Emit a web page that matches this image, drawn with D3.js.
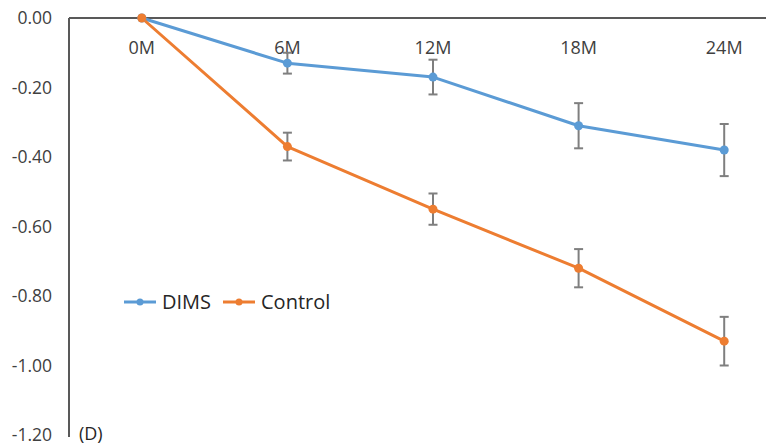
<!DOCTYPE html>
<html><head><meta charset="utf-8">
<script src="https://cdn.jsdelivr.net/npm/d3@7"></script>
<style>body{margin:0;background:#fff;} svg{display:block;}</style>
</head><body>
<svg id="c" width="766" height="447"></svg>
<script>
const categories = ["0M","6M","12M","18M","24M"];
const dimsValues = [0, -0.13, -0.17, -0.31, -0.38];
const dimsErrors = [0, 0.03, 0.05, 0.065, 0.075];
const controlValues = [0, -0.37, -0.55, -0.72, -0.93];
const controlErrors = [0, 0.04, 0.045, 0.055, 0.07];
const yTicks = [0, -0.2, -0.4, -0.6, -0.8, -1.0, -1.2];
const seriesNames = ["DIMS","Control"];
const colors = ["#5b9bd5","#ed7d31"];

const svg = d3.select("#c");
const font = "'Open Sans', 'Liberation Sans', sans-serif";
const fmt = d3.formatLocale({decimal: ".", thousands: ",", grouping: [3], currency: ["", ""], minus: "-"}).format(".2f");
const x = d3.scaleBand().domain(categories).range([69, 797]);
const y = d3.scaleLinear().domain([-1.2, 0]).range([435, 18]);

// y tick labels
svg.append("g").selectAll("text").data(yTicks).join("text")
  .attr("x", 52).attr("y", d => y(d)).attr("dy", "0.35em")
  .attr("text-anchor", "end").attr("font-family", font).attr("font-size", 17.5)
  .attr("fill", "#404040").text(d => fmt(d));

// axes lines
svg.append("line").attr("x1", 69).attr("x2", 766).attr("y1", y(0)).attr("y2", y(0))
  .attr("stroke", "#595959").attr("stroke-width", 2);
svg.append("line").attr("x1", 69).attr("x2", 69).attr("y1", y(0)).attr("y2", 437)
  .attr("stroke", "#595959").attr("stroke-width", 2);

// x tick labels
svg.append("g").selectAll("text").data(categories).join("text")
  .attr("x", d => x(d) + x.bandwidth()/2).attr("y", 48).attr("dy", "0.35em")
  .attr("text-anchor", "middle").attr("font-family", font).attr("font-size", 18)
  .attr("fill", "#404040").text(d => d);

const series = [
  {name: seriesNames[0], vals: dimsValues, errs: dimsErrors, color: colors[0]},
  {name: seriesNames[1], vals: controlValues, errs: controlErrors, color: colors[1]}
];
const cx = d => x(d) + x.bandwidth()/2;
const line = d3.line().x(d => cx(d.c)).y(d => y(d.v));

series.forEach(s => {
  const pts = categories.map((c, i) => ({c, v: s.vals[i], e: s.errs[i]}));
  svg.append("path").datum(pts).attr("d", line).attr("fill", "none")
    .attr("stroke", s.color).attr("stroke-width", 3).attr("stroke-linejoin", "round");
});
series.forEach(s => {
  const pts = categories.map((c, i) => ({c, v: s.vals[i], e: s.errs[i]}));
  const g = svg.append("g");
  pts.filter(d => d.e > 0).forEach(d => {
    const xx = cx(d.c);
    g.append("line").attr("x1", xx).attr("x2", xx).attr("y1", y(d.v + d.e)).attr("y2", y(d.v - d.e))
      .attr("stroke", "#7f7f7f").attr("stroke-width", 2);
    [d.v + d.e, d.v - d.e].forEach(v => g.append("line").attr("x1", xx - 4.5).attr("x2", xx + 4.5)
      .attr("y1", y(v)).attr("y2", y(v)).attr("stroke", "#7f7f7f").attr("stroke-width", 2));
  });
  g.selectAll("circle").data(pts).join("circle").attr("cx", d => cx(d.c)).attr("cy", d => y(d.v))
    .attr("r", 4.5).attr("fill", s.color);
});

// legend
const leg = [{x: 124}, {x: 223}];
series.forEach((s, i) => {
  const lx = leg[i].x, ly = 302;
  svg.append("line").attr("x1", lx).attr("x2", lx + 32).attr("y1", ly).attr("y2", ly)
    .attr("stroke", s.color).attr("stroke-width", 3);
  svg.append("circle").attr("cx", lx + 16).attr("cy", ly).attr("r", 3.5).attr("fill", s.color);
  svg.append("text").attr("x", lx + 38).attr("y", ly).attr("dy", "0.35em")
    .attr("font-family", font).attr("font-size", 20).attr("fill", "#262626").text(s.name);
});

svg.append("text").attr("x", 79).attr("y", 434).attr("dy", "0.35em")
  .attr("font-family", font).attr("font-size", 18).attr("fill", "#262626").text("(D)");
</script>
</body></html>
